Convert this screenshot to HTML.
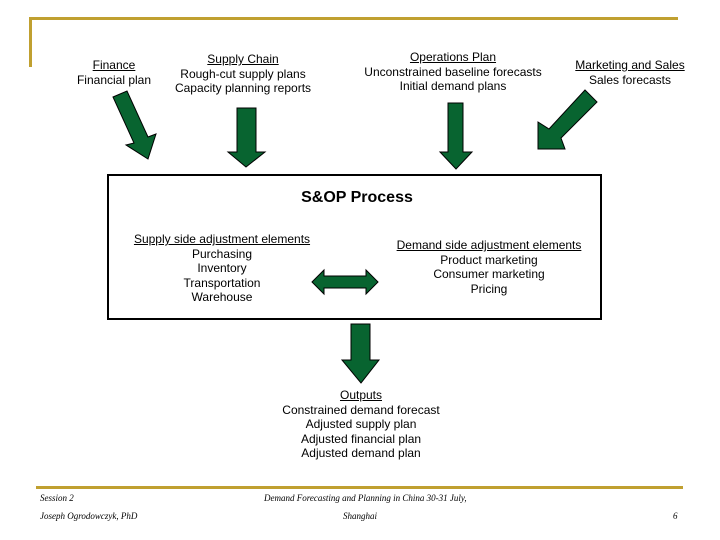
<!DOCTYPE html>
<html><head><style>
body{margin:0;width:720px;height:540px;background:#fff;position:relative;font-family:"Liberation Sans",sans-serif;overflow:hidden}
.t{position:absolute;text-align:center;font-size:12px;line-height:14.5px;color:#000;white-space:nowrap}
u{text-decoration:underline}
.f{position:absolute;font-family:"Liberation Serif",serif;font-size:9px;font-style:italic}
</style></head><body>
<div style="position:absolute;left:30px;top:17px;width:648px;height:3px;background:#c0a030"></div>
<div style="position:absolute;left:29px;top:17px;width:3px;height:50px;background:#c0a030"></div>
<div style="position:absolute;left:36px;top:486px;width:647px;height:3px;background:#c0a030"></div>

<div class="t" style="left:64px;top:58px;width:100px"><u>Finance</u><br>Financial plan</div>
<div class="t" style="left:163px;top:52px;width:160px"><u>Supply Chain</u><br>Rough-cut supply plans<br>Capacity planning reports</div>
<div class="t" style="left:353px;top:50px;width:200px"><u>Operations Plan</u><br>Unconstrained baseline forecasts<br>Initial demand plans</div>
<div class="t" style="left:570px;top:58px;width:120px"><u>Marketing and Sales</u><br>Sales forecasts</div>

<div style="position:absolute;left:107px;top:174px;width:491px;height:142px;border:2px solid #000"></div>
<div class="t" style="left:257px;top:189px;width:200px;font-size:16px;font-weight:bold;line-height:18px">S&amp;OP Process</div>
<div class="t" style="left:122px;top:232px;width:200px"><u>Supply side adjustment elements</u><br>Purchasing<br>Inventory<br>Transportation<br>Warehouse</div>
<div class="t" style="left:389px;top:238px;width:200px"><u>Demand side adjustment elements</u><br>Product marketing<br>Consumer marketing<br>Pricing</div>
<div class="t" style="left:261px;top:388px;width:200px"><u>Outputs</u><br>Constrained demand forecast<br>Adjusted supply plan<br>Adjusted financial plan<br>Adjusted demand plan</div>

<svg width="720" height="540" style="position:absolute;left:0;top:0">
<g fill="#086430" stroke="#000" stroke-width="1">
<polygon points="113,97 127,91 148,137 156,134 148,159 126,145 134,143"/>
<polygon points="237,108 256,108 256,152 265,152 246,167 228,152 237,152"/>
<polygon points="448,103 463,103 463,152 472,152 456,169 440,152 448,152"/>
<polygon points="585,90 597,102 561,138 565,149 538,149 538,122 549,129"/>
<polygon points="312,282 324,270 324,276 366,276 366,270 378,282 366,294 366,288 324,288 324,294"/>
<polygon points="351,324 370,324 370,360 379,360 361,383 342,360 351,360"/>
</g>
</svg>

<div class="f" style="left:40px;top:493px">Session 2</div>
<div class="f" style="left:40px;top:511px">Joseph Ogrodowczyk, PhD</div>
<div class="f" style="left:264px;top:493px">Demand Forecasting and Planning in China 30-31 July,</div>
<div class="f" style="left:343px;top:511px">Shanghai</div>
<div class="f" style="left:673px;top:511px">6</div>
</body></html>
